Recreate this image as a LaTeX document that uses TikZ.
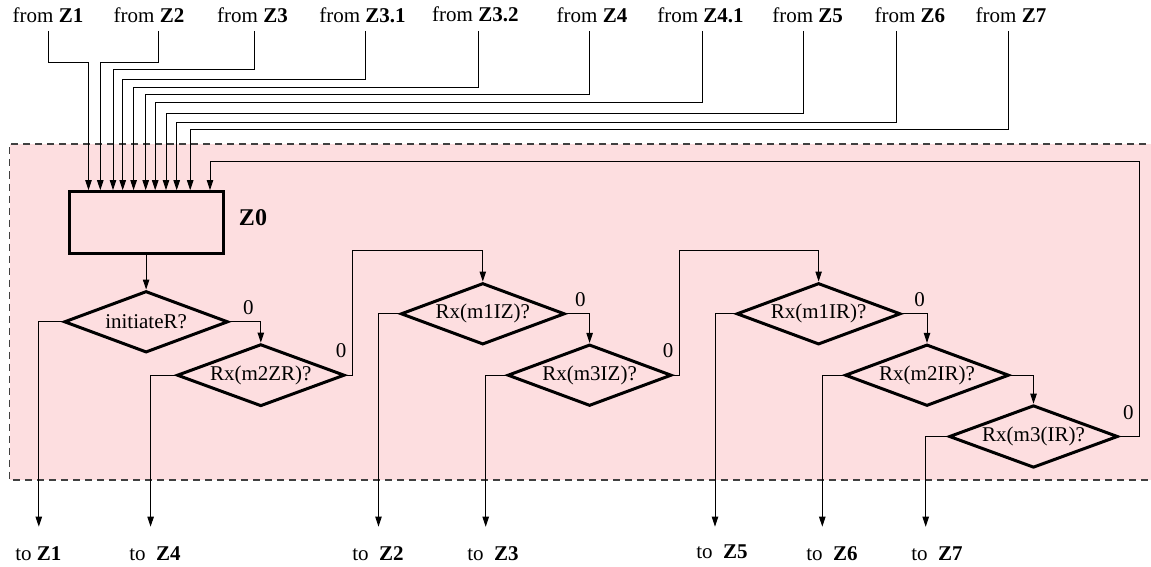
\documentclass[tikz,border=0pt]{standalone}
\usepackage{fontspec}
\setmainfont{Liberation Serif}
\usepackage{tikz}
\usetikzlibrary{
    arrows.meta,            % Triangle arrow tips.
    positioning,            % Relative positioning of nodes.
    shapes.geometric        % Diamond shaped decisions.
}
\definecolor{zonepink}{RGB}{253,222,224}
\tikzset{
    decision/.style={diamond, draw, line width=1.5pt, aspect=2.7,
        minimum width=82pt, minimum height=30.75pt, inner sep=1pt},
    zonebox/.style={rectangle, draw, line width=1.5pt,
        minimum width=77pt, minimum height=30.8pt},
    zero/.style={above=5pt}
}

\begin{document}
\begin{tikzpicture}[>={Triangle[length=5pt,width=3.2pt]}, line width=0.5pt,
        x=0.5pt, y=-0.5pt, font=\fontsize{10.5}{12}\selectfont]
                \useasboundingbox (0,0) rectangle (1151,567);
                \fill[zonepink] (9.5,144) rectangle (1170,480);
                \draw[dashed, black!75, line width=0.6pt, dash pattern=on 3.5pt off 2.5pt]
                    (1170,144) to (9.5,144) to (9.5,480) to (1170,480);
                \node[zonebox] (z0) at (146.1,222.5) {};
                \node[font=\fontsize{12}{14}\selectfont\bfseries] (z0name) at (253,217.3) {Z0};
                \node[decision] (d1) at (146.1,321.8) {initiateR?};
                \node[decision] (d2) at (260.8,375.2) {Rx(m2ZR)?};
                \node[decision] (d3) at (482.8,313.8) {Rx(m1IZ)?};
                \node[decision] (d4) at (589.6,375.2) {Rx(m3IZ)?};
                \node[decision] (d5) at (818.6,313.8) {Rx(m1IR)?};
                \node[decision] (d6) at (927,375.2) {Rx(m2IR)?};
                \node[decision] (d7) at (1033.5,436.5) {Rx(m3(IR)?};
                \node (fz1) at (48,15) {from \textbf{Z1}};
                \node (fz2) at (149,15) {from \textbf{Z2}};
                \node (fz3) at (252.5,15) {from \textbf{Z3}};
                \node (fz31) at (362.5,15) {from \textbf{Z3.1}};
                \node (fz32) at (475.4,14) {from \textbf{Z3.2}};
                \node (fz4) at (592,15) {from \textbf{Z4}};
                \node (fz41) at (700.5,15) {from \textbf{Z4.1}};
                \node (fz5) at (807.7,15) {from \textbf{Z5}};
                \node (fz6) at (909.8,15) {from \textbf{Z6}};
                \node (fz7) at (1011,15) {from \textbf{Z7}};
                \coordinate (iz1) at (48.1,31) {};
                \coordinate (iz2) at (158.3,31) {};
                \coordinate (iz3) at (254.2,31) {};
                \coordinate (iz31) at (365.2,31) {};
                \coordinate (iz32) at (478.4,31) {};
                \coordinate (iz4) at (589.6,31) {};
                \coordinate (iz41) at (702.4,31) {};
                \coordinate (iz5) at (803.1,31) {};
                \coordinate (iz6) at (896.7,31) {};
                \coordinate (iz7) at (1008.4,31) {};
                \draw[->] (iz1) |- (88.5,62.3) to (z0.north -| 88.5,0);
                \draw[->] (iz2) |- (100.3,62.3) to (z0.north -| 100.3,0);
                \draw[->] (iz3) |- (113,70) to (z0.north -| 113,0);
                \draw[->] (iz31) |- (122.7,79.3) to (z0.north -| 122.7,0);
                \draw[->] (iz32) |- (133.6,87.3) to (z0.north -| 133.6,0);
                \draw[->] (iz4) |- (145.7,95) to (z0.north -| 145.7,0);
                \draw[->] (iz41) |- (155.2,102.7) to (z0.north -| 155.2,0);
                \draw[->] (iz5) |- (166,113.3) to (z0.north -| 166,0);
                \draw[->] (iz6) |- (176.7,122.7) to (z0.north -| 176.7,0);
                \draw[->] (iz7) |- (190.2,130) to (z0.north -| 190.2,0);
                \draw[->] (d7.east) to ++(20,0) |- (210,161) to (z0.north -| 210,0);
                \draw[->] (z0.south) to (d1.north);
                \draw[->] (d1.east) -| node[pos=0.3, above] {0} (d2.north);
                \draw[->] (d2.east) to ++(6.5,0) |- ([yshift=15.3pt]d3.north) to (d3.north);
                \draw[->] (d3.east) -| node[pos=0.3, above] {0} (d4.north);
                \draw[->] (d4.east) to ++(6.5,0) |- ([yshift=15.3pt]d5.north) to (d5.north);
                \draw[->] (d5.east) -| node[pos=0.35, above] {0} (d6.north);
                \draw[->] (d6.east) -| (d7.north);
                \node[zero, xshift=-2.5pt] at (d2.east) {0};
                \node[zero, xshift=-2.5pt] at (d4.east) {0};
                \node[zero, xshift=4.5pt] at (d7.east) {0};
                \coordinate (oz1) at (38.8,526.7) {};
                \coordinate (oz4) at (150.6,526.7) {};
                \coordinate (oz2) at (378.5,526.7) {};
                \coordinate (oz3) at (485.7,526.7) {};
                \coordinate (oz5) at (715,526.7) {};
                \coordinate (oz6) at (822.3,526.7) {};
                \coordinate (oz7) at (925.7,526.7) {};
                \draw[->] (d1.west) -| (oz1);
                \draw[->] (d2.west) -| (oz4);
                \draw[->] (d3.west) -| (oz2);
                \draw[->] (d4.west) -| (oz3);
                \draw[->] (d5.west) -| (oz5);
                \draw[->] (d6.west) -| (oz6);
                \draw[->] (d7.west) -| (oz7);
                \node (tz1) at (38.3,554) {to \textbf{Z1}};
                \node (tz4) at (155,554) {to\enspace\textbf{Z4}};
                \node (tz2) at (378,554) {to\enspace\textbf{Z2}};
                \node (tz3) at (493,554) {to\enspace\textbf{Z3}};
                \node (tz5) at (722,552) {to\enspace\textbf{Z5}};
                \node (tz6) at (832,554) {to\enspace\textbf{Z6}};
                \node (tz7) at (937,554) {to\enspace\textbf{Z7}};
            \end{tikzpicture}
\end{document}
